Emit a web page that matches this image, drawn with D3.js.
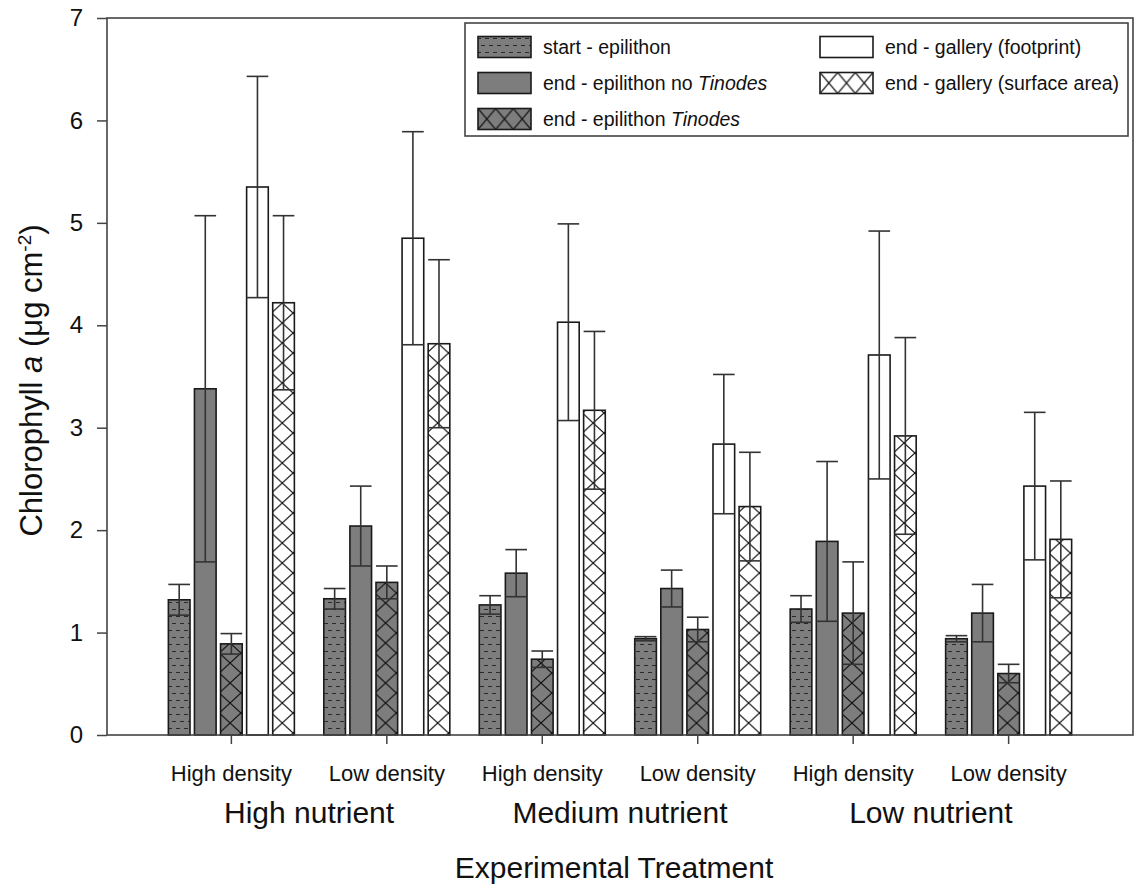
<!DOCTYPE html>
<html>
<head>
<meta charset="utf-8">
<script src="https://cdn.jsdelivr.net/npm/d3@7"></script>
<style>
  body { margin: 0; background: #fff; }
  text { font-family: "Liberation Sans", Arial, sans-serif; fill: #111; }
</style>
</head>
<body>
<script>
// chart data
const groups = ["HN-HD", "HN-LD", "MN-HD", "MN-LD", "LN-HD", "LN-LD"];
const densityLabels = ["High density", "Low density", "High density", "Low density", "High density", "Low density"];
const nutrientLabels = ["High nutrient", "Medium nutrient", "Low nutrient"];
const series = ["start", "noTinodes", "tinodes", "footprint", "surface"];

const startMean     = [1.32, 1.33, 1.27, 0.94, 1.23, 0.94];
const noTinodesMean = [3.38, 2.04, 1.58, 1.43, 1.89, 1.19];
const tinodesMean   = [0.89, 1.49, 0.74, 1.03, 1.19, 0.60];
const footprintMean = [5.35, 4.85, 4.03, 2.84, 3.71, 2.43];
const surfaceMean   = [4.22, 3.82, 3.17, 2.23, 2.92, 1.91];

const startSE     = [0.15, 0.10, 0.09, 0.02, 0.13, 0.03];
const noTinodesSE = [1.69, 0.39, 0.23, 0.18, 0.78, 0.28];
const tinodesSE   = [0.10, 0.16, 0.08, 0.12, 0.50, 0.09];
const footprintSE = [1.08, 1.04, 0.96, 0.68, 1.21, 0.72];
const surfaceSE   = [0.85, 0.82, 0.77, 0.53, 0.96, 0.57];

const yTicks = [0, 1, 2, 3, 4, 5, 6, 7];

const means = [startMean, noTinodesMean, tinodesMean, footprintMean, surfaceMean];
const ses = [startSE, noTinodesSE, tinodesSE, footprintSE, surfaceSE];

const margin = {top: 18, right: 2, bottom: 150, left: 107};
const width = 1135 - margin.left - margin.right;   // 1026
const height = 885 - margin.top - margin.bottom;   // 717
const gray = "#7d7d7d";
const lineCol = "#333";

const svg = d3.select("body")
    .append("svg")
    .attr("width", 1135)
    .attr("height", 885);
const defs = svg.append("defs");
const g = svg.append("g")
    .attr("transform", `translate(${margin.left}, ${margin.top})`);

// scales
const x = d3.scaleBand()
    .domain(groups)
    .range([0, width])
    .paddingInner(0)
    .paddingOuter(0.3);
const xSub = d3.scaleBand()
    .domain(series)
    .range([-63, 63])
    .paddingInner(0.17);
const y = d3.scaleLinear()
    .domain([0, 7])
    .range([height, 0]);
const bw = xSub.bandwidth();

// dashed fill for start - epilithon
const dash = defs.append("pattern")
    .attr("id", "dash")
    .attr("patternUnits", "userSpaceOnUse")
    .attr("width", 8).attr("height", 14);
dash.append("rect").attr("width", 8).attr("height", 14).attr("fill", gray);
dash.append("path")
    .attr("d", "M1,3.5H5M-3,10.5H1M5,10.5H9")
    .attr("stroke", "#2a2a2a").attr("stroke-width", 1.2);

// cross hatch, one pattern per bar so the diamonds line up with the bar edges
function crossPattern(id, x0, y0, w, h, bg) {
    const p = defs.append("pattern")
        .attr("id", id)
        .attr("patternUnits", "userSpaceOnUse")
        .attr("x", x0).attr("y", y0)
        .attr("width", w).attr("height", h);
    p.append("rect").attr("width", w).attr("height", h).attr("fill", bg);
    p.append("path")
        .attr("d", `M0,0L${w},${h}M${w},0L0,${h}`)
        .attr("stroke", "#111").attr("stroke-width", 1.2);
    return `url(#${id})`;
}

function fillFor(s, id, x0, y0, w, h) {
    if (s === "start") return "url(#dash)";
    if (s === "noTinodes") return gray;
    if (s === "tinodes") return crossPattern(id, x0, y0, w, h, gray);
    if (s === "footprint") return "#fff";
    return crossPattern(id, x0, y0, w, h, "#fff");
}

// bar table built from the arrays
const bars = [];
groups.forEach((grp, i) => {
    series.forEach((s, j) => {
        bars.push({grp: grp, s: s, mean: means[j][i], se: ses[j][i], id: `p${i}_${j}`});
    });
});

const barX = d => x(d.grp) + x.bandwidth() / 2 + xSub(d.s);

g.selectAll(".bar")
    .data(bars)
    .join("rect")
    .attr("class", "bar")
    .attr("x", d => barX(d))
    .attr("y", d => y(d.mean))
    .attr("width", bw)
    .attr("height", d => height - y(d.mean))
    .attr("fill", d => fillFor(d.s, d.id, barX(d) + margin.left, height + margin.top, bw, 20))
    .attr("stroke", "#1a1a1a")
    .attr("stroke-width", 1.6);

// error bars
const eb = g.selectAll(".err")
    .data(bars)
    .join("g")
    .attr("class", "err")
    .attr("stroke", lineCol)
    .attr("stroke-width", 1.6);
eb.append("line")
    .attr("x1", d => barX(d) + bw / 2).attr("x2", d => barX(d) + bw / 2)
    .attr("y1", d => y(d.mean - d.se)).attr("y2", d => y(d.mean + d.se));
eb.append("line")
    .attr("x1", d => barX(d)).attr("x2", d => barX(d) + bw)
    .attr("y1", d => y(d.mean + d.se)).attr("y2", d => y(d.mean + d.se));
eb.append("line")
    .attr("x1", d => barX(d)).attr("x2", d => barX(d) + bw)
    .attr("y1", d => y(d.mean - d.se)).attr("y2", d => y(d.mean - d.se));

// Y axis
g.append("g")
    .call(d3.axisLeft(y).tickValues(yTicks).tickFormat(d3.format("d")).tickSize(10).tickPadding(14))
    .call(a => a.select(".domain").remove())
    .call(a => a.selectAll("line").attr("stroke", "#444").attr("stroke-width", 1.5))
    .call(a => a.selectAll("text").style("font-size", "24px").attr("fill", "#111"));

// X axis
g.append("g")
    .attr("transform", `translate(0, ${height})`)
    .call(d3.axisBottom(x).tickSize(9).tickPadding(21).tickFormat((d, i) => densityLabels[i]))
    .call(a => a.select(".domain").remove())
    .call(a => a.selectAll("line").attr("stroke", "#444").attr("stroke-width", 1.5))
    .call(a => a.selectAll("text").style("font-size", "22px").attr("fill", "#111"));

// frame
g.append("rect")
    .attr("width", width).attr("height", height)
    .attr("fill", "none").attr("stroke", "#444").attr("stroke-width", 1.6);

// nutrient labels
g.selectAll(".nutr")
    .data(nutrientLabels)
    .join("text")
    .attr("class", "nutr")
    .attr("x", (d, i) => (x(groups[2 * i]) + x(groups[2 * i + 1]) + x.bandwidth()) / 2)
    .attr("y", height + 88)
    .attr("text-anchor", "middle")
    .style("font-size", "30px")
    .text(d => d);

// axis titles
g.append("text")
    .attr("x", width / 2 - 6)
    .attr("y", height + 143)
    .attr("text-anchor", "middle")
    .style("font-size", "30px")
    .text("Experimental Treatment");

const yl = svg.append("text")
    .attr("transform", `translate(42, ${margin.top + height / 2 + 4}) rotate(-90)`)
    .attr("text-anchor", "middle")
    .style("font-size", "31px");
yl.append("tspan").text("Chlorophyll ");
yl.append("tspan").style("font-style", "italic").text("a");
yl.append("tspan").text(" (μg cm");
yl.append("tspan").attr("dy", -11).style("font-size", "19px").text("-2");
yl.append("tspan").attr("dy", 11).text(")");

// legend
const leg = svg.append("g");
leg.append("rect")
    .attr("x", 465).attr("y", 23).attr("width", 663).attr("height", 113)
    .attr("fill", "#fff").attr("stroke", "#444").attr("stroke-width", 1.6);

const legendNames = [
    ["start - epilithon"],
    ["end - epilithon no ", "Tinodes"],
    ["end - epilithon ", "Tinodes"],
    ["end - gallery (footprint)"],
    ["end - gallery (surface area)"]
];
const legPos = [[478, 47], [478, 83], [478, 119], [820, 47], [820, 83]];
const sw = 53, sh = 21;

series.forEach((s, j) => {
    const [lx, ly] = legPos[j];
    leg.append("rect")
        .attr("x", lx).attr("y", ly - sh / 2)
        .attr("width", sw).attr("height", sh)
        .attr("fill", fillFor(s, "leg" + j, lx, ly - sh / 2, sw / 3, sh))
        .attr("stroke", "#1a1a1a").attr("stroke-width", 1.6);
    const t = leg.append("text")
        .attr("x", lx + sw + 12).attr("y", ly + 7)
        .style("font-size", "19.5px");
    t.append("tspan").text(legendNames[j][0]);
    if (legendNames[j][1]) t.append("tspan").style("font-style", "italic").text(legendNames[j][1]);
});
</script>
</body>
</html>
